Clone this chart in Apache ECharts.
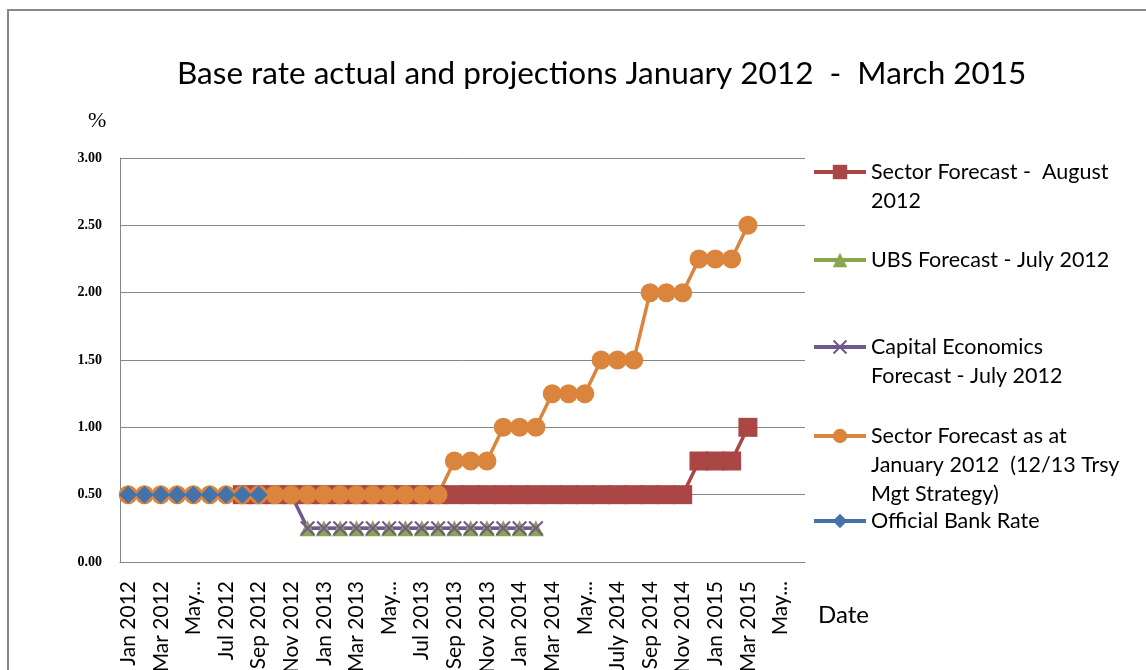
<!DOCTYPE html>
<html>
<head>
<meta charset="utf-8">
<script src="https://cdn.jsdelivr.net/npm/echarts@6/dist/echarts.min.js"></script>
<style>
html,body{margin:0;padding:0;background:#fff;}
#chart{width:1146px;height:670px;}
</style>
</head>
<body>
<div id="chart"></div>
<script>
var categories = [
  'Jan 2012','Feb 2012','Mar 2012','Apr 2012','May 2012','Jun 2012','Jul 2012','Aug 2012','Sep 2012','Oct 2012','Nov 2012','Dec 2012',
  'Jan 2013','Feb 2013','Mar 2013','Apr 2013','May 2013','Jun 2013','Jul 2013','Aug 2013','Sep 2013','Oct 2013','Nov 2013','Dec 2013',
  'Jan 2014','Feb 2014','Mar 2014','Apr 2014','May 2014','Jun 2014','July 2014','Aug 2014','Sep 2014','Oct 2014','Nov 2014','Dec 2014',
  'Jan 2015','Feb 2015','Mar 2015','Apr 2015','May 2015','Jun 2015'
];
var yTicks = [0, 0.5, 1, 1.5, 2, 2.5, 3];

var sectorAug2012 = [null,null,null,null,null,null,null,
  0.5,0.5,0.5,0.5,0.5,0.5,0.5,0.5,0.5,0.5,0.5,0.5,0.5,0.5,0.5,0.5,0.5,0.5,0.5,0.5,0.5,0.5,0.5,0.5,0.5,0.5,0.5,0.5,
  0.75,0.75,0.75,1.0,null,null,null];
var ubsJuly2012 = [null,null,null,null,null,null,null,null,null,null,null,
  0.25,0.25,0.25,0.25,0.25,0.25,0.25,0.25,0.25,0.25,0.25,0.25,0.25,0.25,0.25,
  null,null,null,null,null,null,null,null,null,null,null,null,null,null,null,null];
var capitalEconomics = [null,null,null,null,null,null,null,null,null,null,0.5,
  0.25,0.25,0.25,0.25,0.25,0.25,0.25,0.25,0.25,0.25,0.25,0.25,0.25,0.25,0.25,
  null,null,null,null,null,null,null,null,null,null,null,null,null,null,null,null];
var sectorJan2012 = [0.5,0.5,0.5,0.5,0.5,0.5,0.5,0.5,0.5,0.5,0.5,0.5,0.5,0.5,0.5,0.5,0.5,0.5,0.5,0.5,
  0.75,0.75,0.75,1.0,1.0,1.0,1.25,1.25,1.25,1.5,1.5,1.5,2.0,2.0,2.0,2.25,2.25,2.25,2.5,null,null,null];
var officialBankRate = [0.5,0.5,0.5,0.5,0.5,0.5,0.5,0.5,0.5,
  null,null,null,null,null,null,null,null,null,null,null,null,null,null,null,null,null,null,null,null,null,null,null,null,null,null,null,null,null,null,null,null,null];

var seriesNames = [
  'Sector Forecast -  August 2012',
  'UBS Forecast - July 2012',
  'Capital Economics Forecast - July 2012',
  'Sector Forecast as at January 2012  (12/13 Trsy Mgt Strategy)',
  'Official Bank Rate'
];
var legendLabels = [
  '\nSector Forecast -  August\n2012',
  'UBS Forecast - July 2012',
  '\nCapital Economics\nForecast - July 2012',
  '\n\nSector Forecast as at\nJanuary 2012  (12/13 Trsy\nMgt Strategy)',
  'Official Bank Rate'
];
var legendCentersY = [172, 260, 347, 436, 521];
var legendLines = [3, 1, 3, 5, 1];
var colors = ['#AA4643', '#89A54E', '#71588F', '#DB843D', '#4572A7'];

var FONT = 'Lato';
var LH = 29;

var legends = seriesNames.map(function (n, i) {
  return {
    data: [n],
    left: 812,
    top: legendCentersY[i] - legendLines[i] * LH / 2,
    padding: 0,
    itemWidth: 52,
    itemHeight: 18,
    selectedMode: false,
    lineStyle: { width: 4 },
    formatter: function () { return legendLabels[i]; },
    textStyle: { fontFamily: FONT, fontSize: 21.5, lineHeight: LH, color: '#000' }
  };
});

var xSymbol = 'path://M0,1 L1,0 L5,4 L9,0 L10,1 L6,5 L10,9 L9,10 L5,6 L1,10 L0,9 L4,5 Z';

var chart = echarts.init(document.getElementById('chart'), null, { renderer: 'canvas' });
chart.setOption({
  animation: false,
  backgroundColor: '#fff',
  color: colors,
  title: {
    text: 'Base rate actual and projections January 2012  -  March 2015',
    left: 172, top: 53,
    textStyle: { fontFamily: FONT, fontSize: 31.5, fontWeight: 'normal', color: '#000' }
  },
  graphic: [
    { type: 'rect', shape: { x: 8, y: 10, width: 1200, height: 700 }, style: { fill: 'none', stroke: '#888', lineWidth: 2 }, silent: true },
    { type: 'text', left: 88, top: 110, style: { text: '%', fontFamily: 'Liberation Serif', fontSize: 22, fill: '#000' } },
    { type: 'text', left: 818, top: 603, style: { text: 'Date', fontFamily: FONT, fontSize: 24, fill: '#000' } }
  ],
  legend: legends,
  grid: { left: 120, right: 341, top: 158, bottom: 108, containLabel: false, outerBoundsMode: 'none' },
  xAxis: {
    type: 'category',
    data: categories,
    boundaryGap: true,
    axisLine: { lineStyle: { color: '#868686', width: 1 } },
    axisTick: { show: false },
    axisLabel: {
      interval: 1,
      rotate: 90,
      margin: 19,
      fontFamily: FONT,
      fontSize: 21,
      color: '#000',
      formatter: function (v) { return v.indexOf('May') === 0 ? 'May...' : v; }
    },
    splitLine: { show: false }
  },
  yAxis: {
    type: 'value',
    min: yTicks[0], max: yTicks[yTicks.length - 1], interval: 0.5,
    axisLine: { show: true, lineStyle: { color: '#868686', width: 1 } },
    axisTick: { show: false },
    axisLabel: {
      margin: 18,
      fontFamily: 'Liberation Serif', fontWeight: 'bold', fontSize: 14, color: '#000',
      formatter: function (v) { return v.toFixed(2); }
    },
    splitLine: { show: true, lineStyle: { color: '#868686', width: 1 } }
  },
  series: [
    { name: seriesNames[0], type: 'line', data: sectorAug2012, symbol: 'rect', symbolSize: 19, showAllSymbol: true,
      lineStyle: { width: 3.5, color: colors[0] }, itemStyle: { color: colors[0] } },
    { name: seriesNames[1], type: 'line', data: ubsJuly2012, symbol: 'triangle', symbolSize: 16, showAllSymbol: true,
      lineStyle: { width: 3.5, color: colors[1] }, itemStyle: { color: colors[1] } },
    { name: seriesNames[2], type: 'line', data: capitalEconomics, symbol: xSymbol, symbolSize: 15, showAllSymbol: true,
      lineStyle: { width: 3.5, color: colors[2] }, itemStyle: { color: colors[2] } },
    { name: seriesNames[3], type: 'line', data: sectorJan2012, symbol: 'circle', symbolSize: 19, showAllSymbol: true,
      lineStyle: { width: 3.5, color: colors[3] }, itemStyle: { color: colors[3] } },
    { name: seriesNames[4], type: 'line', data: officialBankRate, symbol: 'diamond', symbolSize: 18, showAllSymbol: true,
      lineStyle: { width: 3.5, color: colors[4] }, itemStyle: { color: colors[4] } }
  ]
});
</script>
</body>
</html>
